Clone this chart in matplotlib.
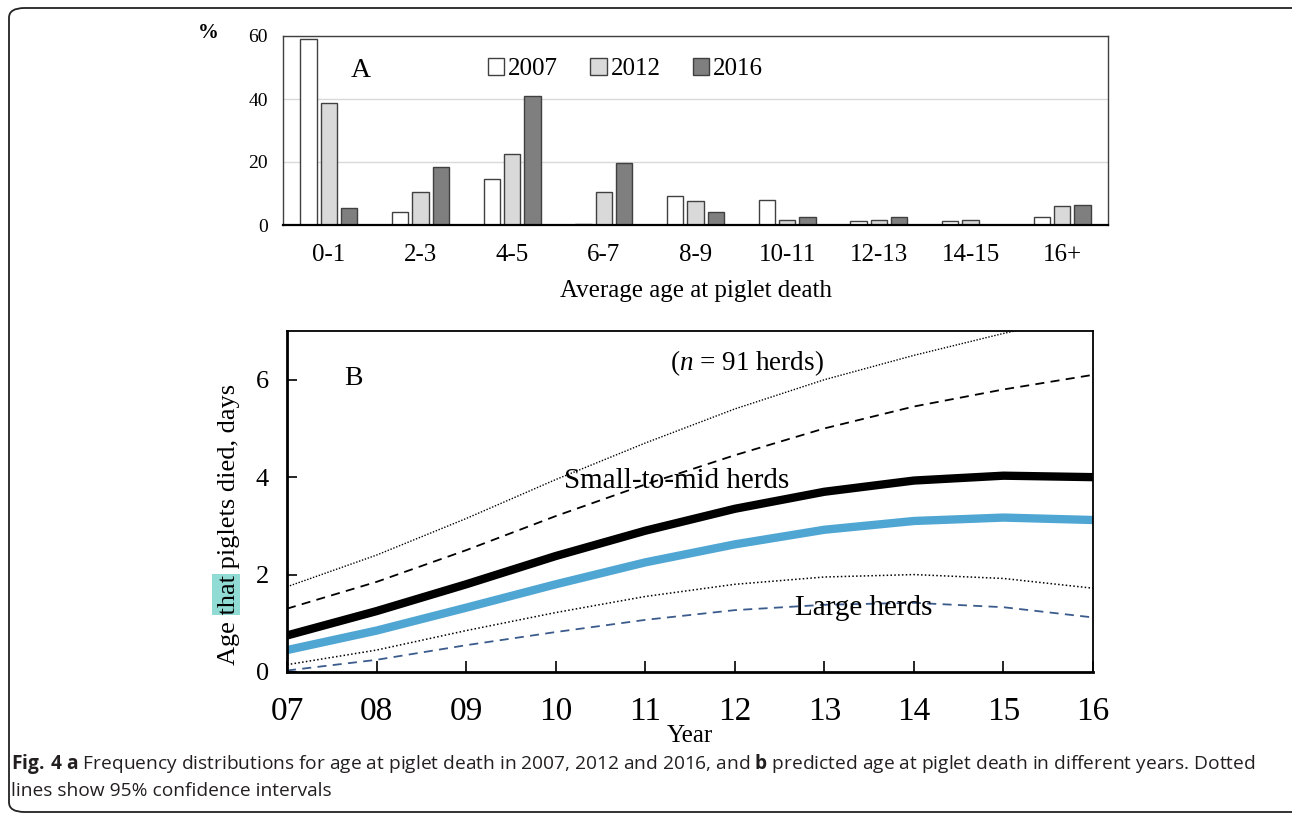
import matplotlib
matplotlib.use("Agg")
import matplotlib.pyplot as plt
from matplotlib.patches import FancyBboxPatch, Rectangle
from matplotlib.transforms import IdentityTransform
import numpy as np

plt.rcParams["font.family"] = "Liberation Serif"
plt.rcParams["mathtext.fontset"] = "custom"
plt.rcParams["mathtext.it"] = "Liberation Serif:italic"
plt.rcParams["mathtext.rm"] = "Open Sans"
plt.rcParams["mathtext.bf"] = "Open Sans:bold"

# panel A: frequency of age at piglet death (%)
age_groups = ["0-1", "2-3", "4-5", "6-7", "8-9", "10-11", "12-13", "14-15", "16+"]
pct_2007 = [59.0, 4.1, 14.6, 0.3, 9.2, 7.9, 1.2, 1.2, 2.5]
pct_2012 = [38.7, 10.5, 22.5, 10.5, 7.5, 1.5, 1.5, 1.5, 6.0]
pct_2016 = [5.4, 18.4, 41.0, 19.7, 4.1, 2.5, 2.5, 0.0, 6.5]

# panel B: predicted age at death (days) per year
years = [7, 8, 9, 10, 11, 12, 13, 14, 15, 16]
small_mid = [0.75, 1.25, 1.80, 2.38, 2.90, 3.35, 3.70, 3.93, 4.03, 4.00]
small_hi = [1.30, 1.85, 2.50, 3.20, 3.85, 4.45, 5.00, 5.45, 5.80, 6.10]
large = [0.45, 0.85, 1.32, 1.80, 2.25, 2.62, 2.92, 3.10, 3.17, 3.12]
ci_hi = [1.75, 2.40, 3.15, 3.95, 4.70, 5.40, 6.00, 6.50, 6.95, 7.35]
ci_lo = [0.15, 0.45, 0.85, 1.22, 1.55, 1.80, 1.95, 2.00, 1.92, 1.72]
large_lo = [0.03, 0.25, 0.55, 0.82, 1.07, 1.27, 1.38, 1.42, 1.33, 1.12]

W, H = 1292, 814
fig = plt.figure(figsize=(W / 100, H / 100), dpi=100)

def box(l, r, t, b):
    return [l / W, 1 - b / H, (r - l) / W, (b - t) / H]

# ---- panel A
axA = fig.add_axes(box(283, 1108, 36, 225))
x = np.arange(len(age_groups))
bw = 0.175
off = 0.222
axA.bar(x - off, pct_2007, bw, color="white", edgecolor="#404040", lw=1, label="2007", zorder=3)
axA.bar(x, pct_2012, bw, color="#d9d9d9", edgecolor="#404040", lw=1, label="2012", zorder=3)
axA.bar(x + off, pct_2016, bw, color="#7f7f7f", edgecolor="#404040", lw=1, label="2016", zorder=3)
axA.set_xlim(-0.5, len(age_groups) - 0.5)
axA.set_ylim(0, 60)
axA.set_yticks([0, 20, 40, 60])
axA.set_xticks(x)
axA.set_xticklabels(age_groups)
axA.tick_params(axis="both", length=0)
axA.tick_params(axis="y", labelsize=14, pad=11)
axA.tick_params(axis="x", labelsize=18, pad=14)
axA.grid(axis="y", color="#d9d9d9", lw=1, zorder=0)
for s in ["left", "top", "right"]:
    axA.spines[s].set_color("#404040")
    axA.spines[s].set_linewidth(1)
axA.spines["bottom"].set_linewidth(1.6)
axA.spines["bottom"].set_zorder(4)
axA.set_xlabel("Average age at piglet death", fontsize=18, labelpad=10)
axA.text(0.094, 0.815, "A", transform=axA.transAxes, fontsize=20, ha="center", va="center")
axA.legend(loc="center", bbox_to_anchor=(0.415, 0.825), ncol=3, frameon=False,
           fontsize=18, handlelength=0.65, handleheight=0.65, handletextpad=0.15,
           columnspacing=1.3)
fig.text(208 / W, 1 - 33 / H, "%", fontsize=15, fontweight="bold", ha="center", va="center")

# ---- panel B
axB = fig.add_axes(box(287, 1093, 331, 672))
axB.plot(years, ci_hi, color="black", lw=1, ls=(0, (1, 1.2)))
axB.plot(years, small_hi, color="black", lw=1.3, ls=(0, (5, 3.5)))
axB.plot(years, ci_lo, color="black", lw=1.1, ls=(0, (1, 1.5)))
axB.plot(years, large_lo, color="#3b5b8c", lw=1.3, ls=(0, (5, 3.5)))
axB.plot(years, small_mid, color="black", lw=6, solid_capstyle="round")
axB.plot(years, large, color="#4fa6d3", lw=6, solid_capstyle="round")
axB.set_xlim(7, 16)
axB.set_ylim(0, 7)
axB.set_xticks(years)
axB.set_xticklabels(["%02d" % y for y in years])
axB.set_yticks([0, 2, 4, 6])
axB.tick_params(axis="x", direction="in", length=8, width=1.2, labelsize=24, pad=18)
axB.tick_params(axis="y", direction="in", length=7, width=1.2, labelsize=19, pad=13)
for s in axB.spines.values():
    s.set_linewidth(1.3)
axB.spines["left"].set_linewidth(2)
axB.spines["bottom"].set_linewidth(2)
axB.set_xlabel("Year", fontsize=18, labelpad=-2)
ylab = axB.set_ylabel("Age that piglets died, days", fontsize=19)
axB.yaxis.set_label_coords(-0.058, 0.434)
axB.text(0.082, 0.86, "B", transform=axB.transAxes, fontsize=20, ha="center", va="center")
axB.text(0.571, 0.905, r"($n$ = 91 herds)", transform=axB.transAxes, fontsize=19.5,
         ha="center", va="center")
axB.text(0.483, 0.56, "Small-to-mid herds", transform=axB.transAxes, fontsize=21,
         ha="center", va="center")
axB.text(0.716, 0.188, "Large herds", transform=axB.transAxes, fontsize=21,
         ha="center", va="center")

# ---- caption
cap_kw = dict(fontsize=13.8, family="Open Sans", color="#231f20", ha="left", va="center")
fig.text(11 / W, 1 - 764 / H,
         r"$\bf{Fig.\ 4\ a}$ Frequency distributions for age at piglet death in 2007, 2012 and 2016, and "
         r"$\bf{b}$ predicted age at piglet death in different years. Dotted", **cap_kw)
fig.text(11 / W, 1 - 791 / H, "lines show 95% confidence intervals", **cap_kw)

# outer rounded frame
frame = FancyBboxPatch((9 / W, 1 - 812 / H), (1310 - 9) / W, (812 - 8) / H,
                       boxstyle="round,pad=0,rounding_size=0.012", transform=fig.transFigure,
                       fill=False, edgecolor="#222222", lw=1.3, zorder=5)
fig.patches.append(frame)

# highlight behind the word "that" in the y label
fig.canvas.draw()
r = fig.canvas.get_renderer()
bb = ylab.get_window_extent(r)
tmp = fig.text(0, 0, "Age that", fontsize=19)
w_all = tmp.get_window_extent(r).width
tmp.set_text("that")
w_that = tmp.get_window_extent(r).width
tmp.remove()
hl = Rectangle((bb.x0 - 6, bb.y0 + w_all - w_that - 1), bb.width + 6, w_that + 2,
               transform=IdentityTransform(), facecolor="#90dcd5", edgecolor="none", zorder=-1)
fig.patches.append(hl)

fig.savefig("out.png", dpi=100)
